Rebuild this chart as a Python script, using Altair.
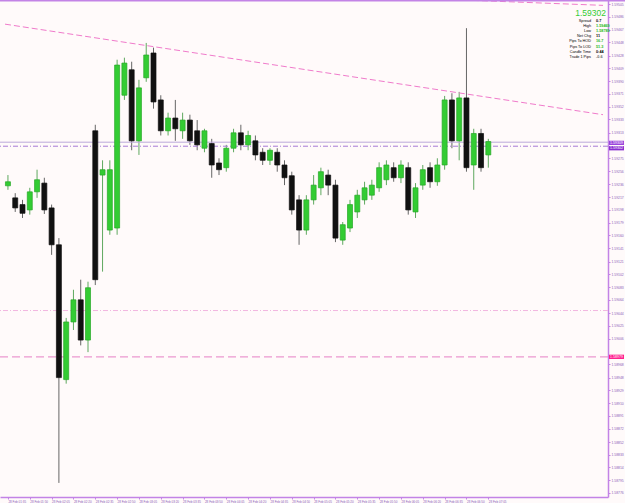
import altair as alt
import pandas as pd

# ---------------- data ----------------
opens = [1.59234, 1.59216, 1.59206, 1.59198, 1.59225, 1.59238, 1.59201, 1.59146, 1.58945, 1.59031,
         1.59064, 1.59004, 1.59316, 1.59250, 1.59168, 1.59171, 1.59369, 1.59407, 1.59301, 1.59395,
         1.59432, 1.59362, 1.59316, 1.59335, 1.59316, 1.59332, 1.59316, 1.59290, 1.59297, 1.59268,
         1.59261, 1.59290, 1.59313, 1.59295, 1.59301, 1.59284, 1.59272, 1.59284, 1.59265, 1.59249,
         1.59213, 1.59168, 1.59213, 1.59231, 1.59250, 1.59235, 1.59153, 1.59171, 1.59195, 1.59213,
         1.59220, 1.59231, 1.59243, 1.59261, 1.59246, 1.59261, 1.59195, 1.59235, 1.59261, 1.59240,
         1.59265, 1.59362, 1.59301, 1.59365, 1.59265, 1.59312, 1.59280]
highs = [1.59250, 1.59223, 1.59213, 1.59231, 1.59258, 1.59246, 1.59206, 1.59156, 1.59037, 1.59079,
         1.59094, 1.59091, 1.59325, 1.59272, 1.59272, 1.59422, 1.59425, 1.59419, 1.59392, 1.59447,
         1.59440, 1.59369, 1.59343, 1.59362, 1.59343, 1.59340, 1.59332, 1.59319, 1.59304, 1.59275,
         1.59295, 1.59319, 1.59325, 1.59316, 1.59309, 1.59290, 1.59290, 1.59290, 1.59272, 1.59255,
         1.59220, 1.59220, 1.59250, 1.59261, 1.59258, 1.59243, 1.59180, 1.59213, 1.59228, 1.59240,
         1.59243, 1.59269, 1.59272, 1.59269, 1.59272, 1.59269, 1.59238, 1.59265, 1.59269, 1.59275,
         1.59368, 1.59372, 1.59374, 1.59469, 1.59319, 1.59319, 1.59304]
lows = [1.59228, 1.59195, 1.59186, 1.59191, 1.59216, 1.59192, 1.59131, 1.58791, 1.58939, 1.59019,
        1.58996, 1.58986, 1.59086, 1.59106, 1.59161, 1.59161, 1.59362, 1.59287, 1.59280, 1.59389,
        1.59349, 1.59309, 1.59309, 1.59301, 1.59304, 1.59295, 1.59287, 1.59284, 1.59246, 1.59250,
        1.59255, 1.59284, 1.59287, 1.59287, 1.59272, 1.59265, 1.59265, 1.59255, 1.59235, 1.59191,
        1.59146, 1.59161, 1.59206, 1.59220, 1.59220, 1.59150, 1.59146, 1.59165, 1.59186, 1.59206,
        1.59213, 1.59225, 1.59235, 1.59240, 1.59238, 1.59191, 1.59186, 1.59228, 1.59231, 1.59234,
        1.59258, 1.59290, 1.59272, 1.59255, 1.59228, 1.59255, 1.59261]
closes = [1.59240, 1.59201, 1.59193, 1.59225, 1.59243, 1.59198, 1.59146, 1.58948, 1.59031, 1.59064,
          1.59004, 1.59082, 1.59094, 1.59258, 1.59258, 1.59414, 1.59417, 1.59301, 1.59380, 1.59429,
          1.59359, 1.59316, 1.59335, 1.59319, 1.59332, 1.59301, 1.59295, 1.59316, 1.59265, 1.59258,
          1.59290, 1.59313, 1.59295, 1.59309, 1.59280, 1.59272, 1.59287, 1.59265, 1.59246, 1.59198,
          1.59168, 1.59213, 1.59235, 1.59255, 1.59235, 1.59156, 1.59176, 1.59206, 1.59220, 1.59231,
          1.59235, 1.59261, 1.59265, 1.59246, 1.59265, 1.59198, 1.59231, 1.59258, 1.59240, 1.59265,
          1.59362, 1.59301, 1.59365, 1.59261, 1.59312, 1.59261, 1.59300]

time_labels = ["28 Feb 01:35", "28 Feb 01:50", "28 Feb 02:05", "28 Feb 02:20", "28 Feb 02:35",
               "28 Feb 02:50", "28 Feb 03:05", "28 Feb 03:20", "28 Feb 03:35", "28 Feb 03:50",
               "28 Feb 04:05", "28 Feb 04:20", "28 Feb 04:35", "28 Feb 04:50", "28 Feb 05:05",
               "28 Feb 05:20", "28 Feb 05:35", "28 Feb 05:50", "28 Feb 06:05", "28 Feb 06:20",
               "28 Feb 06:35", "28 Feb 06:50", "28 Feb 07:05"]
time_tick_pos = [0, 3, 6, 9, 12, 15, 18, 21, 24, 27, 30, 33, 36, 39, 42, 45, 48, 51, 54, 57, 60, 63, 66]

price_ticks = [1.59505, 1.59486, 1.59467, 1.59448, 1.59428, 1.59409, 1.59390, 1.59371, 1.59352,
               1.59333, 1.59313, 1.59275, 1.59256, 1.59236, 1.59217, 1.59198, 1.59179,
               1.59160, 1.59141, 1.59121, 1.59102, 1.59083, 1.59064, 1.59044, 1.59025, 1.59006,
               1.58968, 1.58948, 1.58929, 1.58910, 1.58891, 1.58872, 1.58852, 1.58833,
               1.58814, 1.58795, 1.58776]

ask_price = 1.59299
bid_price = 1.59293
ask_label = "1.59309"
bid_label = "1.59302"
level_a = 1.59048
level_b = 1.58979
level_b_label = "1.58979"

trend_x = [-0.405, 81.76]
trend_y = [1.59475, 1.59340]
trend2_x = [57.7, 81.76]
trend2_y = [1.59513, 1.59503]

info_labels = ["Spread", "High", "Low", "Net Chg", "Pips To HOD", "Pips To LOD", "Candle Time", "Trade 1 Pips"]
info_values = ["0.7", "1.59469", "1.58789", "11", "16.7", "51.3", "0:44", "-0.6"]
info_colors = ["#000000", "#22B822", "#22B822", "#000000", "#22B822", "#22B822", "#000000", "#666666"]
big_price = "1.59302"

# ---------------- chart ----------------
X_DOMAIN = [-0.405, 81.76]
Y_DOMAIN = [1.58770, 1.59511]
PURPLE = "#C383E6"
LABEL = "#8A5CB8"
FONT = "Liberation Sans"

df = pd.DataFrame({"i": list(range(len(opens))), "open": opens, "high": highs,
                   "low": lows, "close": closes})

xscale = alt.Scale(domain=X_DOMAIN, nice=False, zero=False)
yscale = alt.Scale(domain=Y_DOMAIN, nice=False, zero=False)

labels_js = "[" + ",".join("'" + t + "'" for t in time_labels) + "]"

xaxis = alt.Axis(values=time_tick_pos, labelExpr=labels_js + "[round(datum.value/3)]",
                 orient="bottom", grid=False, domainColor=PURPLE, domainWidth=1.5,
                 tickColor=PURPLE, tickSize=2, labelColor=LABEL, labelFontSize=3.0,
                 labelFont=FONT, labelAlign="left", labelPadding=1, labelOverlap=False,
                 labelSeparation=0, labelFlush=False, labelBound=False, title=None)
yaxis = alt.Axis(values=price_ticks, format=".5f", orient="right", grid=False,
                 domainColor=PURPLE, domainWidth=1.5, tickColor=PURPLE, tickSize=2,
                 labelColor=LABEL, labelFontSize=3.4, labelFont=FONT, labelPadding=1,
                 labelOverlap=False, labelSeparation=0, labelFlush=False, labelBound=False,
                 title=None)


def X(field):
    return alt.X(field, scale=xscale, axis=xaxis)


def Y(field):
    return alt.Y(field, scale=yscale, axis=yaxis)


up = "datum.close >= datum.open"

wicks = alt.Chart(df).mark_rule(strokeWidth=1).encode(
    x=X("i:Q"), y=Y("low:Q"), y2="high:Q",
    color=alt.condition(up, alt.value("#5FA85F"), alt.value("#666666")),
)
bodies = alt.Chart(df).mark_bar(size=5, strokeWidth=0.7).encode(
    x=X("i:Q"), y=Y("open:Q"), y2="close:Q",
    fill=alt.condition(up, alt.value("#33CC33"), alt.value("#111111")),
    stroke=alt.condition(up, alt.value("#27A827"), alt.value("#111111")),
)


def hline(price, color, dash=None, width=1.0):
    kw = dict(color=color, strokeWidth=width)
    if dash:
        kw["strokeDash"] = dash
    return alt.Chart(pd.DataFrame({"p": [price]})).mark_rule(**kw).encode(y=Y("p:Q"))


line_a = hline(level_a, "#F2B6E0", [5, 2, 1, 2])
line_b = hline(level_b, "#EC98CF", [8, 4], 1.2)
line_ask = hline(ask_price, "#BBA9DA")
line_bid = hline(bid_price, "#A77BD6", [5, 2, 1, 2])


def tline(xs, ys):
    return alt.Chart(pd.DataFrame({"x": xs, "y": ys})).mark_line(
        color="#F07ACB", strokeDash=[6, 3], strokeWidth=1, clip=True).encode(
        x=X("x:Q"), y=Y("y:Q"))


trend = tline(trend_x, trend_y)
trend2 = tline(trend2_x, trend2_y)

top_border = alt.Chart(pd.DataFrame({"a": [0]})).mark_rule(color=PURPLE, strokeWidth=2).encode(
    x=alt.value(0), x2=alt.value(625), y=alt.value(0.5))


def price_box(price, text, color):
    d = pd.DataFrame({"p": [price], "t": [price + 0.000032], "b": [price - 0.000032], "lab": [text]})
    rect = alt.Chart(d).mark_rect(color=color).encode(
        x=alt.value(609), x2=alt.value(624), y=Y("t:Q"), y2="b:Q")
    txt = alt.Chart(d).mark_text(color="white", fontSize=3.6, font=FONT, align="center",
                                 baseline="middle").encode(
        x=alt.value(616.5), y=Y("p:Q"), text="lab:N")
    return [rect, txt]


boxes = (price_box(ask_price - 0.00001, ask_label, "#9B45DB")
         + price_box(bid_price - 0.00003, bid_label, "#8A2FD0")
         + price_box(level_b, level_b_label, "#FF1A8C"))

info_layers = []
info_layers.append(alt.Chart(pd.DataFrame({"t": [big_price]})).mark_text(
    color="#33CC33", fontSize=8.5, font=FONT, align="right", baseline="alphabetic").encode(
    text="t:N", x=alt.value(606), y=alt.value(16)))
for r in range(len(info_labels)):
    yy = 20.5 + 5.2 * r
    info_layers.append(alt.Chart(pd.DataFrame({"t": [info_labels[r]]})).mark_text(
        color="#000000", fontSize=3.8, font=FONT, align="right", baseline="middle").encode(
        text="t:N", x=alt.value(591), y=alt.value(yy)))
    info_layers.append(alt.Chart(pd.DataFrame({"t": [info_values[r]]})).mark_text(
        color=info_colors[r], fontSize=3.8, font=FONT, align="left", baseline="middle",
        fontWeight="bold").encode(
        text="t:N", x=alt.value(596), y=alt.value(yy)))

chart = alt.layer(
    wicks, line_a, line_b, line_ask, line_bid, trend, trend2, bodies,
    *boxes, top_border, *info_layers
).properties(
    width=608, height=497,
    padding={"left": 0, "top": 0, "right": 17, "bottom": 6},
    autosize=alt.AutoSizeParams(type="none"),
    background="#FFFAFA",
).configure_view(stroke=None).configure_axis(
    labelOverlap=False, labelSeparation=0, labelBound=False, labelFlush=False
)

chart.save("out.html", embed_options={"renderer": "svg", "actions": False})
